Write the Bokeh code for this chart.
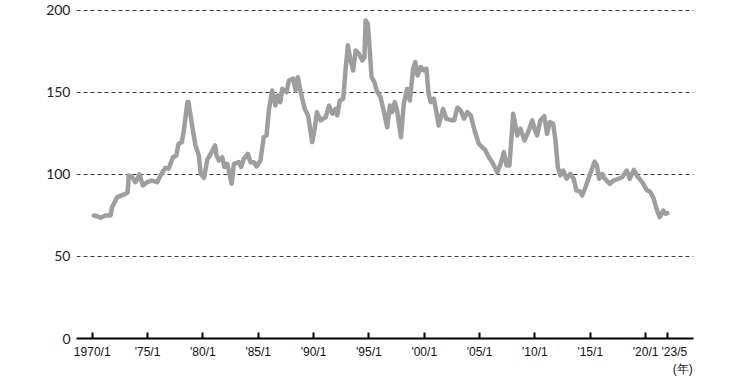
from bokeh.plotting import figure
from bokeh.models import Range1d, FixedTicker
from bokeh.embed import file_html
from bokeh.resources import INLINE

# x positions on the chart's year scale (the '23/5 tick sits at 2022.0 on this scale)
years = [1970.15, 1970.45, 1970.75, 1971.2, 1971.65, 1971.8, 1972.26, 1973.0, 1973.2, 1973.3,
         1973.6, 1973.9, 1974.27, 1974.57, 1974.97, 1975.4, 1975.87, 1976.17, 1976.6, 1976.9,
         1977.3, 1977.6, 1977.8, 1978.1, 1978.3, 1978.6, 1978.7, 1979.0, 1979.33, 1979.63,
         1979.8, 1980.1, 1980.4, 1980.7, 1981.1, 1981.23, 1981.45, 1981.75, 1981.95, 1982.2,
         1982.6, 1982.8, 1983.25, 1983.46, 1983.7, 1984.06, 1984.3, 1984.6, 1984.85, 1985.2,
         1985.5, 1985.75, 1985.96, 1986.26, 1986.56, 1986.77, 1987.0, 1987.17, 1987.56, 1987.77,
         1988.16, 1988.37, 1988.58, 1988.8, 1989.2, 1989.5, 1989.88, 1990.1, 1990.3, 1990.63,
         1991.1, 1991.4, 1991.7, 1992.0, 1992.14, 1992.37, 1992.68, 1992.9, 1993.1, 1993.34,
         1993.58, 1993.8, 1994.1, 1994.4, 1994.6, 1994.7, 1994.9, 1995.08, 1995.24, 1995.5,
         1995.7, 1996.05, 1996.4, 1996.65, 1996.9, 1997.1, 1997.34, 1997.55, 1997.9, 1998.15,
         1998.46, 1998.7, 1999.0, 1999.2, 1999.4, 1999.67, 1999.96, 2000.2, 2000.38, 2000.57,
         2000.87, 2001.1, 2001.3, 2001.7, 2002.0, 2002.44, 2002.7, 2003.0, 2003.3, 2003.6,
         2003.9, 2004.2, 2004.55, 2004.93, 2005.24, 2005.5, 2005.84, 2006.14, 2006.6, 2006.9,
         2007.2, 2007.44, 2007.7, 2008.04, 2008.4, 2008.7, 2009.06, 2009.45, 2009.76, 2010.0,
         2010.2, 2010.5, 2010.85, 2011.1, 2011.35, 2011.65, 2011.86, 2012.07, 2012.3, 2012.56,
         2012.86, 2013.2, 2013.5, 2013.75, 2014.06, 2014.27, 2014.57, 2015.0, 2015.4, 2015.6,
         2015.8, 2016.08, 2016.3, 2016.77, 2017.1, 2017.6, 2017.9, 2018.3, 2018.57, 2018.94,
         2019.3, 2019.7, 2020.08, 2020.44, 2020.74, 2020.98, 2021.28, 2021.6, 2021.8, 2021.97]

values = [75.0, 74.5, 73.6, 75.0, 75.0, 80.0, 86.2, 88.2, 89.0, 99.4,
          98.4, 95.3, 100.0, 93.3, 95.3, 96.3, 95.3, 99.4, 104.0, 103.5,
          110.5, 111.6, 118.7, 119.7, 127.9, 144.1, 144.1, 130.9, 117.7, 111.6,
          100.4, 98.0, 109.0, 112.6, 117.7, 111.6, 108.5, 110.5, 104.5, 106.5,
          94.3, 106.5, 107.5, 104.5, 109.6, 112.6, 107.5, 107.5, 104.9, 108.5,
          122.7, 123.8, 139.0, 151.2, 142.0, 148.2, 144.1, 152.2, 150.2, 157.3,
          158.4, 151.2, 159.3, 151.2, 140.0, 136.0, 119.7, 128.0, 138.0, 133.0,
          135.0, 142.0, 137.0, 140.0, 136.0, 145.0, 146.2, 164.5, 178.7, 169.5,
          163.4, 175.6, 173.6, 169.5, 171.5, 193.9, 191.9, 175.6, 159.3, 156.3,
          151.2, 147.1, 137.0, 128.8, 142.0, 138.0, 144.1, 139.0, 122.7, 143.1,
          152.2, 145.1, 164.5, 168.5, 160.4, 165.4, 163.4, 164.5, 150.0, 144.1,
          146.2, 138.0, 129.9, 140.0, 134.0, 133.0, 133.0, 140.7, 139.0, 134.0,
          138.0, 136.0, 126.8, 118.7, 116.6, 115.0, 110.5, 107.5, 101.4, 106.5,
          113.6, 105.5, 105.5, 137.0, 123.8, 127.9, 120.7, 126.8, 133.0, 127.0,
          123.8, 133.0, 135.5, 124.8, 131.9, 130.9, 120.7, 104.5, 99.4, 102.4,
          97.4, 100.4, 97.4, 90.2, 89.8, 87.2, 92.3, 100.4, 107.9, 105.5,
          97.4, 100.4, 97.4, 94.3, 96.3, 97.4, 98.4, 102.4, 97.4, 102.8,
          98.4, 95.3, 90.7, 89.2, 85.2, 79.1, 74.0, 78.0, 76.0, 76.4]

tick_pos = [1970, 1975, 1980, 1985, 1990, 1995, 2000, 2005, 2010, 2015, 2020, 2022]
NB = "\u00a0"
tick_labels = ["1970/1", "'75/1", "'80/1", "'85/1", "'90/1", "'95/1", "'00/1",
               "'05/1", "'10/1", "'15/1", "'20/1",
               NB * 4 + "'23/5\n" + NB * 9 + "(年)"]
y_ticks = [0, 50, 100, 150, 200]
grid_ticks = [50, 100, 150, 200]

p = figure(width=750, height=381, output_backend="svg", toolbar_location=None,
           x_range=Range1d(1968.58, 2024.33), y_range=Range1d(0, 203),
           min_border_left=76, min_border_right=57, min_border_top=5, min_border_bottom=43)
p.outline_line_color = None
p.background_fill_color = "white"
p.border_fill_color = "white"

p.xgrid.grid_line_color = None
p.ygrid.ticker = FixedTicker(ticks=grid_ticks)
p.ygrid.grid_line_color = "#3a3a3a"
p.ygrid.grid_line_dash = "4 3"
p.ygrid.grid_line_width = 1.2

xa = p.xaxis[0]
xa.ticker = FixedTicker(ticks=tick_pos)
xa.major_label_overrides = {t: l for t, l in zip(tick_pos, tick_labels)}
xa.axis_line_color = "black"
xa.axis_line_width = 2
xa.major_tick_line_color = "black"
xa.major_tick_line_width = 2
xa.major_tick_in = 6
xa.major_tick_out = 0
xa.minor_tick_line_color = None
xa.major_label_standoff = 6
xa.major_label_text_font = "Liberation Sans"
xa.major_label_text_font_size = "12px"
xa.major_label_text_color = "#111111"
xa.major_label_text_line_height = 1.25

ya = p.yaxis[0]
ya.ticker = FixedTicker(ticks=y_ticks)
ya.axis_line_color = None
ya.major_tick_line_color = None
ya.minor_tick_line_color = None
ya.major_tick_in = 0
ya.major_tick_out = 0
ya.major_label_standoff = 6
ya.major_label_text_font = "Lato"
ya.major_label_text_font_size = "14px"
ya.major_label_text_color = "#222222"

p.line(years, values, line_width=4.5, line_color="#9e9e9e", line_join="round", line_cap="round")

open("out.html", "w").write(file_html(p, INLINE))
